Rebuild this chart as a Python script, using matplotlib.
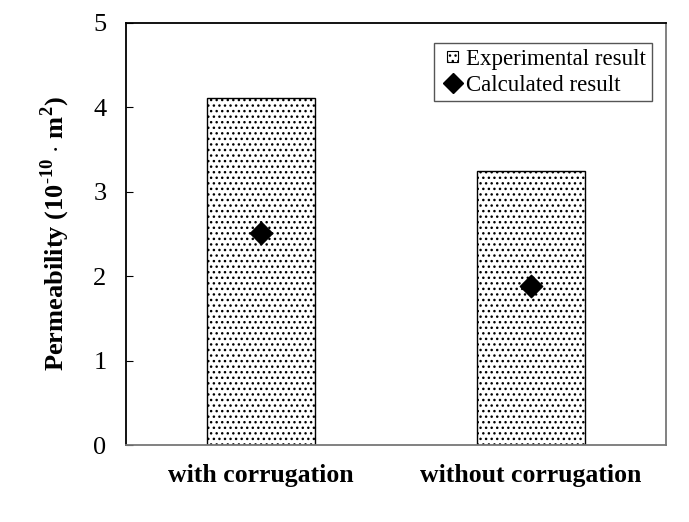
import matplotlib
matplotlib.use("Agg")
import matplotlib.pyplot as plt
from matplotlib.patches import Patch, Rectangle
from matplotlib.lines import Line2D
from matplotlib.legend_handler import HandlerPatch

categories = ["with corrugation", "without corrugation"]
experimental = [4.11, 3.25]
calculated = [2.51, 1.88]
yticks = [0, 1, 2, 3, 4, 5]

plt.rcParams['font.family'] = ['Liberation Serif', 'DejaVu Serif']
plt.rcParams['hatch.linewidth'] = 1.0
plt.rcParams['mathtext.fontset'] = 'custom'
plt.rcParams['mathtext.rm'] = 'Liberation Serif'
plt.rcParams['mathtext.bf'] = 'Liberation Serif:bold'

fig = plt.figure(figsize=(6.89, 5.22), dpi=100)
ax = fig.add_axes([126/689, 1-445/522, 540/689, 422/522])

x = list(range(len(categories)))
ax.bar(x, experimental, width=0.4, color='white', edgecolor='black',
       hatch='...', linewidth=1.0, zorder=2)
ax.scatter(x, calculated, marker='D', s=130, color='black', zorder=3)

ax.set_xlim(-0.5, 1.5)
ax.set_ylim(0, 5)
ax.set_yticks(yticks)
ax.set_yticklabels([str(t) for t in yticks], fontsize=19)
ax.set_xticks(x)
ax.set_xticklabels(categories, fontsize=18.5, fontweight='bold')
ax.tick_params(axis='y', direction='in', length=5, pad=14)
ax.tick_params(axis='x', length=0, pad=14)

for s in ['top', 'left']:
    ax.spines[s].set_color('black')
for s in ['right', 'bottom']:
    ax.spines[s].set_color('#777777')
for s in ax.spines.values():
    s.set_linewidth(1.3)

ax.set_ylabel(r'Permeability (10$^{\mathbf{\text{-}10}}$ $\cdot$ m$^{\mathbf{2}}$)',
              fontsize=19, fontweight='bold', labelpad=15)


def square_patch(legend, orig_handle, xdescent, ydescent, width, height, fontsize):
    side = 0.5 * fontsize
    return Rectangle((-xdescent + width / 2 - side / 2, -ydescent + height / 2 - side / 2),
                     side, side)


handles = [Patch(facecolor='white', edgecolor='black', hatch='...', linewidth=0.8),
           Line2D([], [], marker='D', color='black', linestyle='none', markersize=10)]
leg = ax.legend(handles, ['Experimental result', 'Calculated result'],
                loc='upper right', bbox_to_anchor=(0.974, 0.953), fontsize=16.5,
                frameon=True, fancybox=False, framealpha=1,
                handlelength=1.1, handleheight=0.7, handletextpad=0.05,
                borderpad=0.25, labelspacing=0.22, borderaxespad=0,
                handler_map={Patch: HandlerPatch(patch_func=square_patch)})
leg.get_frame().set_edgecolor('#555555')
leg.get_frame().set_linewidth(1.0)

fig.savefig('out.png', dpi=100)
